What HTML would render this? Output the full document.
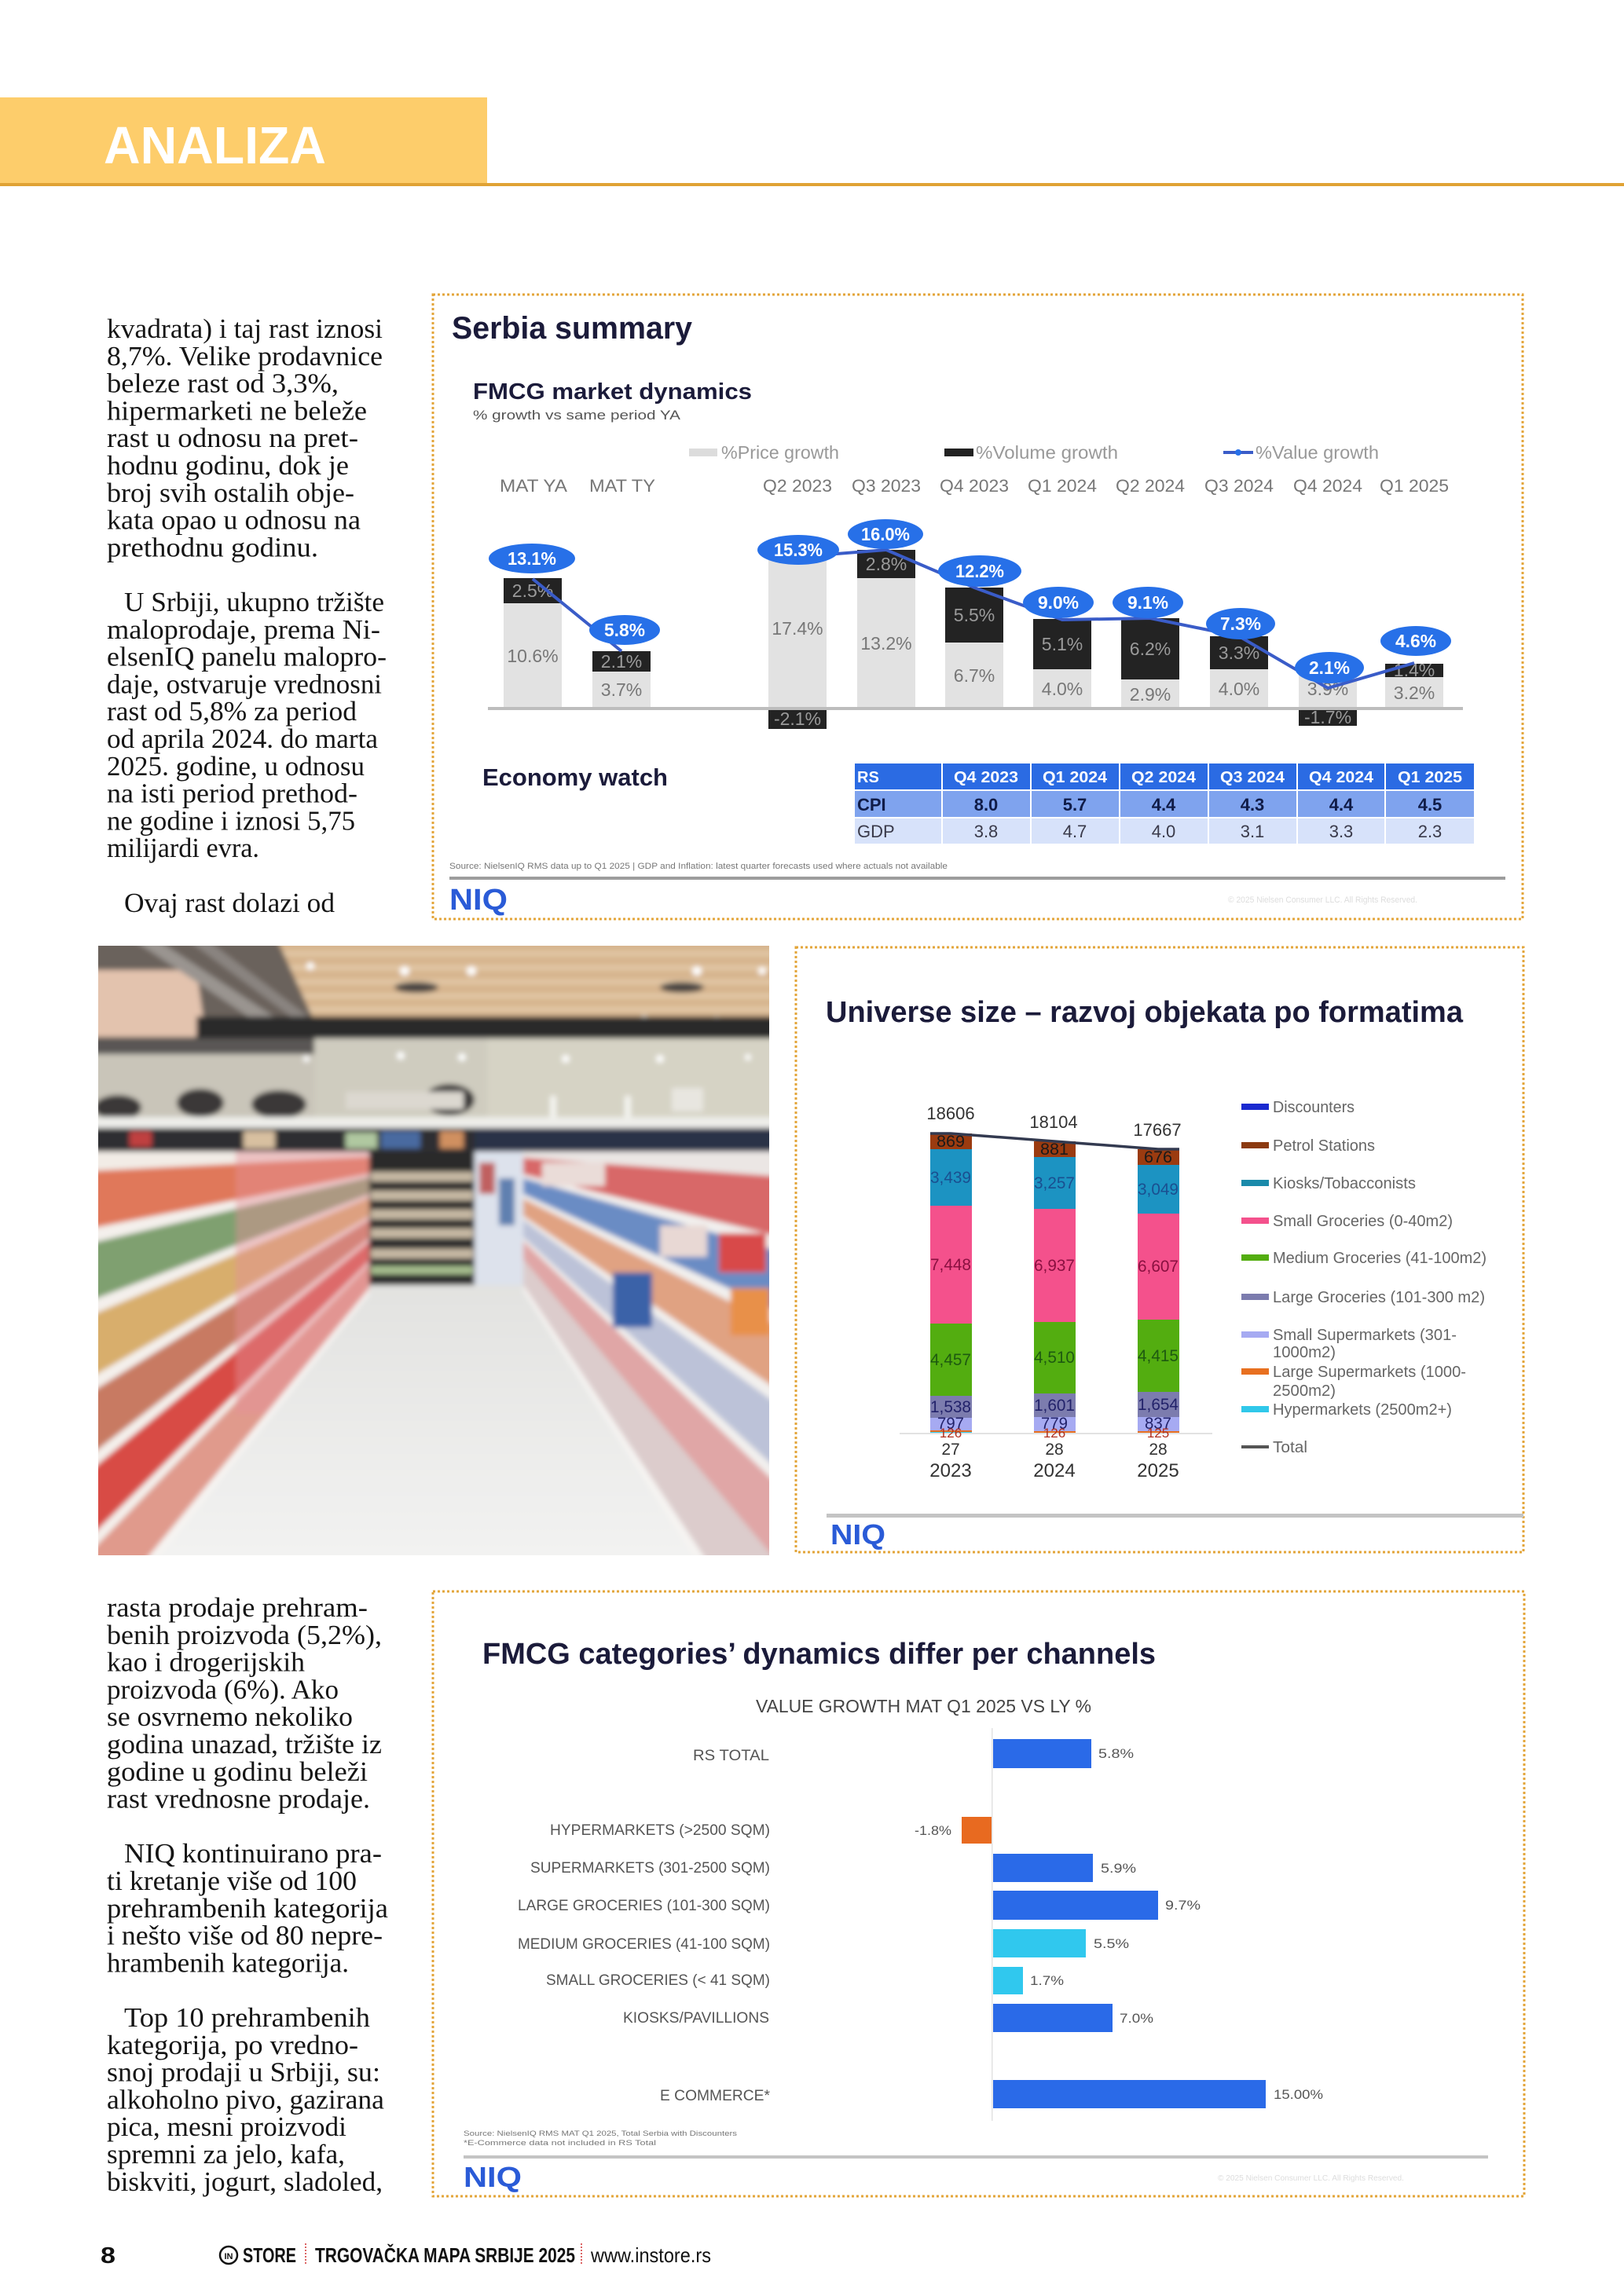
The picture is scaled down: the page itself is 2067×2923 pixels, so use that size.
<!DOCTYPE html>
<html>
<head>
<meta charset="utf-8">
<style>
html,body{margin:0;padding:0;background:#fff;}
svg{display:block;}
.bt{font-family:"Liberation Serif",serif;font-size:35px;fill:#151515;}
.sans{font-family:"Liberation Sans",sans-serif;}
</style>
</head>
<body>
<svg width="2067" height="2923" viewBox="0 0 2067 2923" xmlns="http://www.w3.org/2000/svg">
<defs>
  <clipPath id="photoClip"><rect x="125" y="1204" width="854" height="776"/></clipPath>
  <filter id="blur" x="-5%" y="-5%" width="110%" height="110%"><feGaussianBlur stdDeviation="3.5"/></filter>
  <linearGradient id="floorG" x1="0" y1="0" x2="0" y2="1">
    <stop offset="0" stop-color="#e2e2e0"/><stop offset="1" stop-color="#f3f3f2"/>
  </linearGradient>
</defs>
<rect x="0" y="0" width="2067" height="2923" fill="#fff"/>

<!-- HEADER -->
<rect x="0" y="124" width="620" height="110" fill="#fdcd6b"/>
<rect x="0" y="233" width="2067" height="4" fill="#e0a234"/>
<text x="132" y="208" class="sans" font-weight="bold" font-size="67" fill="#fff" textLength="283" lengthAdjust="spacingAndGlyphs">ANALIZA</text>

<!-- BODY TEXT COLUMN 1 -->
<g class="bt">
<text x="136" y="430" textLength="351" lengthAdjust="spacingAndGlyphs">kvadrata) i taj rast iznosi</text>
<text x="136" y="464.8" textLength="351" lengthAdjust="spacingAndGlyphs">8,7%. Velike prodavnice</text>
<text x="136" y="499.6" textLength="295" lengthAdjust="spacingAndGlyphs">beleze rast od 3,3%,</text>
<text x="136" y="534.4" textLength="331" lengthAdjust="spacingAndGlyphs">hipermarketi ne beleže</text>
<text x="136" y="569.2" textLength="320" lengthAdjust="spacingAndGlyphs">rast u odnosu na pret-</text>
<text x="136" y="604" textLength="308" lengthAdjust="spacingAndGlyphs">hodnu godinu, dok je</text>
<text x="136" y="638.8" textLength="315" lengthAdjust="spacingAndGlyphs">broj svih ostalih obje-</text>
<text x="136" y="673.6" textLength="323" lengthAdjust="spacingAndGlyphs">kata opao u odnosu na</text>
<text x="136" y="708.4" textLength="269" lengthAdjust="spacingAndGlyphs">prethodnu godinu.</text>
<text x="158" y="778" textLength="331" lengthAdjust="spacingAndGlyphs">U Srbiji, ukupno tržište</text>
<text x="136" y="812.8" textLength="348" lengthAdjust="spacingAndGlyphs">maloprodaje, prema Ni-</text>
<text x="136" y="847.6" textLength="356" lengthAdjust="spacingAndGlyphs">elsenIQ panelu malopro-</text>
<text x="136" y="882.4" textLength="350" lengthAdjust="spacingAndGlyphs">daje, ostvaruje vrednosni</text>
<text x="136" y="917.2" textLength="318" lengthAdjust="spacingAndGlyphs">rast od 5,8% za period</text>
<text x="136" y="952" textLength="345" lengthAdjust="spacingAndGlyphs">od aprila 2024. do marta</text>
<text x="136" y="986.8" textLength="328" lengthAdjust="spacingAndGlyphs">2025. godine, u odnosu</text>
<text x="136" y="1021.6" textLength="319" lengthAdjust="spacingAndGlyphs">na isti period prethod-</text>
<text x="136" y="1056.4" textLength="316" lengthAdjust="spacingAndGlyphs">ne godine i iznosi 5,75</text>
<text x="136" y="1091.2" textLength="194" lengthAdjust="spacingAndGlyphs">milijardi evra.</text>
<text x="158" y="1160.8" textLength="268" lengthAdjust="spacingAndGlyphs">Ovaj rast dolazi od</text>
</g>

<!-- BODY TEXT COLUMN 2 -->
<g class="bt">
<text x="136" y="2058" textLength="332" lengthAdjust="spacingAndGlyphs">rasta prodaje prehram-</text>
<text x="136" y="2092.8" textLength="350" lengthAdjust="spacingAndGlyphs">benih proizvoda (5,2%),</text>
<text x="136" y="2127.6" textLength="252" lengthAdjust="spacingAndGlyphs">kao i drogerijskih</text>
<text x="136" y="2162.4" textLength="295" lengthAdjust="spacingAndGlyphs">proizvoda (6%). Ako</text>
<text x="136" y="2197.2" textLength="313" lengthAdjust="spacingAndGlyphs">se osvrnemo nekoliko</text>
<text x="136" y="2232" textLength="350" lengthAdjust="spacingAndGlyphs">godina unazad, tržište iz</text>
<text x="136" y="2266.8" textLength="332" lengthAdjust="spacingAndGlyphs">godine u godinu beleži</text>
<text x="136" y="2301.6" textLength="335" lengthAdjust="spacingAndGlyphs">rast vrednosne prodaje.</text>
<text x="158" y="2371.2" textLength="328" lengthAdjust="spacingAndGlyphs">NIQ kontinuirano pra-</text>
<text x="136" y="2406" textLength="318" lengthAdjust="spacingAndGlyphs">ti kretanje više od 100</text>
<text x="136" y="2440.8" textLength="358" lengthAdjust="spacingAndGlyphs">prehrambenih kategorija</text>
<text x="136" y="2475.6" textLength="351" lengthAdjust="spacingAndGlyphs">i nešto više od 80 nepre-</text>
<text x="136" y="2510.4" textLength="308" lengthAdjust="spacingAndGlyphs">hrambenih kategorija.</text>
<text x="158" y="2580" textLength="313" lengthAdjust="spacingAndGlyphs">Top 10 prehrambenih</text>
<text x="136" y="2614.8" textLength="320" lengthAdjust="spacingAndGlyphs">kategorija, po vredno-</text>
<text x="136" y="2649.6" textLength="348" lengthAdjust="spacingAndGlyphs">snoj prodaji u Srbiji, su:</text>
<text x="136" y="2684.4" textLength="353" lengthAdjust="spacingAndGlyphs">alkoholno pivo, gazirana</text>
<text x="136" y="2719.2" textLength="305" lengthAdjust="spacingAndGlyphs">pica, mesni proizvodi</text>
<text x="136" y="2754" textLength="303" lengthAdjust="spacingAndGlyphs">spremni za jelo, kafa,</text>
<text x="136" y="2788.8" textLength="351" lengthAdjust="spacingAndGlyphs">biskviti, jogurt, sladoled,</text>
</g>

<!-- ================= SERBIA SUMMARY ================= -->
<rect x="551" y="375" width="1387" height="795" fill="none" stroke="#e3a53a" stroke-width="3" stroke-dasharray="3,3"/>
<g class="sans">
<text x="575" y="431" font-weight="bold" font-size="40" fill="#1b1b3a" textLength="306" lengthAdjust="spacingAndGlyphs">Serbia summary</text>
<text x="602" y="508" font-weight="bold" font-size="29" fill="#1b1b3a" textLength="355" lengthAdjust="spacingAndGlyphs">FMCG market dynamics</text>
<text x="602" y="534" font-size="17" fill="#555" textLength="264" lengthAdjust="spacingAndGlyphs">% growth vs same period YA</text>
<!-- legend -->
<rect x="877" y="571" width="36" height="10" fill="#dcdcdc"/>
<text x="918" y="584" font-size="23" fill="#999" textLength="150" lengthAdjust="spacingAndGlyphs">%Price growth</text>
<rect x="1202" y="571" width="37" height="10" fill="#222"/>
<text x="1242" y="584" font-size="23" fill="#999" textLength="181" lengthAdjust="spacingAndGlyphs">%Volume growth</text>
<line x1="1557" y1="576" x2="1595" y2="576" stroke="#3a5cc8" stroke-width="4"/>
<circle cx="1576" cy="576" r="4" fill="#2770e8"/>
<text x="1598" y="584" font-size="23" fill="#999" textLength="157" lengthAdjust="spacingAndGlyphs">%Value growth</text>
<!-- headers -->
<g font-size="22" fill="#777" text-anchor="middle">
<text x="679" y="626" textLength="86" lengthAdjust="spacingAndGlyphs">MAT YA</text>
<text x="792" y="626" textLength="84" lengthAdjust="spacingAndGlyphs">MAT TY</text>
<text x="1015" y="626" textLength="88" lengthAdjust="spacingAndGlyphs">Q2 2023</text>
<text x="1128" y="626" textLength="88" lengthAdjust="spacingAndGlyphs">Q3 2023</text>
<text x="1240" y="626" textLength="88" lengthAdjust="spacingAndGlyphs">Q4 2023</text>
<text x="1352" y="626" textLength="88" lengthAdjust="spacingAndGlyphs">Q1 2024</text>
<text x="1464" y="626" textLength="88" lengthAdjust="spacingAndGlyphs">Q2 2024</text>
<text x="1577" y="626" textLength="88" lengthAdjust="spacingAndGlyphs">Q3 2024</text>
<text x="1690" y="626" textLength="88" lengthAdjust="spacingAndGlyphs">Q4 2024</text>
<text x="1800" y="626" textLength="88" lengthAdjust="spacingAndGlyphs">Q1 2025</text>
</g>
<!-- bars: light (price) -->
<g fill="#e2e2e2">
<rect x="641" y="768" width="74" height="134"/>
<rect x="754" y="855" width="74" height="47"/>
<rect x="978" y="700" width="74" height="202"/>
<rect x="1091" y="736" width="74" height="166"/>
<rect x="1203" y="818" width="74" height="84"/>
<rect x="1315" y="852" width="74" height="50"/>
<rect x="1427" y="865" width="74" height="37"/>
<rect x="1540" y="852" width="74" height="50"/>
<rect x="1653" y="853" width="74" height="49"/>
<rect x="1763" y="862" width="74" height="40"/>
</g>
<!-- bars: dark (volume) -->
<g fill="#232323">
<rect x="641" y="736" width="74" height="32"/>
<rect x="754" y="829" width="74" height="26"/>
<rect x="978" y="902" width="74" height="26"/>
<rect x="1091" y="700" width="74" height="36"/>
<rect x="1203" y="748" width="74" height="70"/>
<rect x="1315" y="788" width="74" height="64"/>
<rect x="1427" y="787" width="74" height="78"/>
<rect x="1540" y="810" width="74" height="42"/>
<rect x="1653" y="902" width="74" height="22"/>
<rect x="1763" y="845" width="74" height="17"/>
</g>
<rect x="621" y="900" width="1241" height="4" fill="#bdbdbd"/>
<!-- light labels -->
<g font-size="23" fill="#777" text-anchor="middle">
<text x="678" y="843">10.6%</text>
<text x="791" y="886">3.7%</text>
<text x="1015" y="808">17.4%</text>
<text x="1128" y="827">13.2%</text>
<text x="1240" y="868">6.7%</text>
<text x="1352" y="885">4.0%</text>
<text x="1464" y="892">2.9%</text>
<text x="1577" y="885">4.0%</text>
<text x="1690" y="885">3.9%</text>
<text x="1800" y="890">3.2%</text>
</g>
<!-- dark labels -->
<g font-size="23" fill="#9a9a9a" text-anchor="middle">
<text x="678" y="760">2.5%</text>
<text x="791" y="850">2.1%</text>
<text x="1015" y="923">-2.1%</text>
<text x="1128" y="726">2.8%</text>
<text x="1240" y="791">5.5%</text>
<text x="1352" y="828">5.1%</text>
<text x="1464" y="834">6.2%</text>
<text x="1577" y="839">3.3%</text>
<text x="1690" y="921">-1.7%</text>
<text x="1800" y="861">1.4%</text>
</g>
<!-- value line -->
<g fill="none" stroke="#3a5cc8" stroke-width="4">
<polyline points="678,737 791,829"/>
<polyline points="1015,709 1128,700 1240,748 1352,789 1464,787 1577,810 1690,876 1800,844"/>
</g>
<!-- bubbles -->
<g fill="#2770e8">
<ellipse cx="677" cy="711" rx="55" ry="19"/>
<ellipse cx="795" cy="802" rx="45" ry="19"/>
<ellipse cx="1016" cy="700" rx="52" ry="19"/>
<ellipse cx="1127" cy="680" rx="48" ry="19"/>
<ellipse cx="1247" cy="727" rx="53" ry="20"/>
<ellipse cx="1347" cy="767" rx="45" ry="20"/>
<ellipse cx="1461" cy="767" rx="45" ry="20"/>
<ellipse cx="1579" cy="794" rx="44" ry="20"/>
<ellipse cx="1692" cy="850" rx="44" ry="20"/>
<ellipse cx="1802" cy="816" rx="45" ry="19"/>
</g>
<g font-size="23" font-weight="bold" fill="#fff" text-anchor="middle">
<text x="677" y="719" textLength="62" lengthAdjust="spacingAndGlyphs">13.1%</text>
<text x="795" y="810" textLength="52" lengthAdjust="spacingAndGlyphs">5.8%</text>
<text x="1016" y="708" textLength="62" lengthAdjust="spacingAndGlyphs">15.3%</text>
<text x="1127" y="688" textLength="62" lengthAdjust="spacingAndGlyphs">16.0%</text>
<text x="1247" y="735" textLength="62" lengthAdjust="spacingAndGlyphs">12.2%</text>
<text x="1347" y="775" textLength="52" lengthAdjust="spacingAndGlyphs">9.0%</text>
<text x="1461" y="775" textLength="52" lengthAdjust="spacingAndGlyphs">9.1%</text>
<text x="1579" y="802" textLength="52" lengthAdjust="spacingAndGlyphs">7.3%</text>
<text x="1692" y="858" textLength="52" lengthAdjust="spacingAndGlyphs">2.1%</text>
<text x="1802" y="824" textLength="52" lengthAdjust="spacingAndGlyphs">4.6%</text>
</g>
<!-- economy watch -->
<text x="614" y="1000" font-weight="bold" font-size="31" fill="#1b1b3a" textLength="236" lengthAdjust="spacingAndGlyphs">Economy watch</text>
<g fill="#2b6be3">
<rect x="1088" y="972" width="110" height="33"/>
<rect x="1200" y="972" width="111" height="33"/>
<rect x="1313" y="972" width="111" height="33"/>
<rect x="1426" y="972" width="111" height="33"/>
<rect x="1539" y="972" width="111" height="33"/>
<rect x="1652" y="972" width="110" height="33"/>
<rect x="1764" y="972" width="112" height="33"/>
</g>
<g fill="#7fa3ee">
<rect x="1088" y="1007" width="110" height="33"/>
<rect x="1200" y="1007" width="111" height="33"/>
<rect x="1313" y="1007" width="111" height="33"/>
<rect x="1426" y="1007" width="111" height="33"/>
<rect x="1539" y="1007" width="111" height="33"/>
<rect x="1652" y="1007" width="110" height="33"/>
<rect x="1764" y="1007" width="112" height="33"/>
</g>
<g fill="#d7e2fa">
<rect x="1088" y="1042" width="110" height="32"/>
<rect x="1200" y="1042" width="111" height="32"/>
<rect x="1313" y="1042" width="111" height="32"/>
<rect x="1426" y="1042" width="111" height="32"/>
<rect x="1539" y="1042" width="111" height="32"/>
<rect x="1652" y="1042" width="110" height="32"/>
<rect x="1764" y="1042" width="112" height="32"/>
</g>
<g font-size="20" font-weight="bold" fill="#fff">
<text x="1091" y="996">RS</text>
<g text-anchor="middle">
<text x="1255" y="996" textLength="82" lengthAdjust="spacingAndGlyphs">Q4 2023</text>
<text x="1368" y="996" textLength="82" lengthAdjust="spacingAndGlyphs">Q1 2024</text>
<text x="1481" y="996" textLength="82" lengthAdjust="spacingAndGlyphs">Q2 2024</text>
<text x="1594" y="996" textLength="82" lengthAdjust="spacingAndGlyphs">Q3 2024</text>
<text x="1707" y="996" textLength="82" lengthAdjust="spacingAndGlyphs">Q4 2024</text>
<text x="1820" y="996" textLength="82" lengthAdjust="spacingAndGlyphs">Q1 2025</text>
</g>
</g>
<g font-size="22" font-weight="bold" fill="#101c48">
<text x="1091" y="1032">CPI</text>
<g text-anchor="middle">
<text x="1255" y="1032">8.0</text><text x="1368" y="1032">5.7</text><text x="1481" y="1032">4.4</text>
<text x="1594" y="1032">4.3</text><text x="1707" y="1032">4.4</text><text x="1820" y="1032">4.5</text>
</g>
</g>
<g font-size="22" fill="#3a3a4a">
<text x="1091" y="1066">GDP</text>
<g text-anchor="middle">
<text x="1255" y="1066">3.8</text><text x="1368" y="1066">4.7</text><text x="1481" y="1066">4.0</text>
<text x="1594" y="1066">3.1</text><text x="1707" y="1066">3.3</text><text x="1820" y="1066">2.3</text>
</g>
</g>
<text x="572" y="1106" font-size="11" fill="#777" textLength="634" lengthAdjust="spacingAndGlyphs">Source: NielsenIQ RMS data up to Q1 2025 | GDP and Inflation: latest quarter forecasts used where actuals not available</text>
<rect x="572" y="1116" width="1344" height="4" fill="#9d9d9d"/>
<text x="572" y="1158" font-size="38" font-weight="bold" fill="#2a5bd7" textLength="74" lengthAdjust="spacingAndGlyphs">NIQ</text>
<text x="1563" y="1149" font-size="11" fill="#ddd" textLength="241" lengthAdjust="spacingAndGlyphs">© 2025 Nielsen Consumer LLC. All Rights Reserved.</text>
</g>

<!-- ================= PHOTO ================= -->
<g clip-path="url(#photoClip)">
<g filter="url(#blur)">
  <rect x="110" y="1190" width="885" height="805" fill="#c9c5b9"/>
  <!-- ceiling -->
  <rect x="110" y="1190" width="885" height="106" fill="#d7b58f"/>
  <g fill="#e8d0b0">
    <rect x="350" y="1212" width="645" height="4"/>
    <rect x="360" y="1230" width="635" height="4"/>
    <rect x="370" y="1248" width="625" height="4"/>
    <rect x="380" y="1266" width="615" height="4"/>
    <rect x="390" y="1283" width="605" height="4"/>
  </g>
  <polygon points="110,1190 350,1190 400,1300 400,1322 110,1322" fill="#6a625c"/>
  <polygon points="110,1235 250,1235 262,1320 110,1320" fill="#e3c3ae"/>
  <polygon points="160,1190 190,1190 380,1315 355,1320" fill="#9a9490"/>
  <polygon points="230,1190 255,1190 400,1300 385,1305" fill="#8a8480"/>
  <g fill="#ffffff">
    <circle cx="395" cy="1230" r="5"/><circle cx="515" cy="1236" r="6"/><circle cx="600" cy="1236" r="6"/>
    <circle cx="887" cy="1236" r="6"/><circle cx="970" cy="1236" r="5"/><circle cx="530" cy="1300" r="5"/>
    <circle cx="820" cy="1297" r="5"/><circle cx="912" cy="1298" r="5"/>
  </g>
  <ellipse cx="530" cy="1257" rx="28" ry="7" fill="#4a4442"/>
  <ellipse cx="868" cy="1257" rx="28" ry="7" fill="#4a4442"/>
  <!-- dark band -->
  <rect x="250" y="1294" width="745" height="28" fill="#2c2c2c"/>
  <!-- wall -->
  <rect x="400" y="1322" width="595" height="102" fill="#cfccbf"/>
  <rect x="620" y="1322" width="375" height="102" fill="#d6d3c5"/>
  <g fill="#fff"><circle cx="510" cy="1344" r="5"/><circle cx="588" cy="1346" r="5"/><circle cx="720" cy="1348" r="5"/><circle cx="840" cy="1348" r="5"/><circle cx="952" cy="1346" r="4"/><circle cx="390" cy="1348" r="4"/></g>
  <g fill="#3a3838">
    <ellipse cx="150" cy="1410" rx="30" ry="16"/><ellipse cx="255" cy="1404" rx="30" ry="18"/>
    <ellipse cx="355" cy="1406" rx="35" ry="18"/><ellipse cx="572" cy="1400" rx="32" ry="20"/>
    <rect x="110" y="1322" width="290" height="20" fill="#5a5654"/>
  </g>
  <rect x="440" y="1390" width="150" height="22" fill="#dcd8d0"/>
  <rect x="700" y="1395" width="8" height="30" fill="#f4f4f0"/>
  <rect x="795" y="1395" width="8" height="30" fill="#f4f4f0"/>
  <rect x="855" y="1385" width="40" height="30" fill="#e8e6e0"/>
  <!-- ledge -->
  <rect x="110" y="1422" width="885" height="14" fill="#eeeeea"/>
  <!-- dark products band -->
  <rect x="110" y="1436" width="885" height="32" fill="#2e2e30"/>
  <rect x="604" y="1436" width="391" height="32" fill="#2a3346"/>
  <g>
    <rect x="165" y="1440" width="28" height="20" fill="#c04040"/>
    <rect x="310" y="1440" width="40" height="22" fill="#d8c0a0"/>
    <rect x="440" y="1442" width="40" height="20" fill="#b0c8a0"/>
    <rect x="485" y="1440" width="50" height="22" fill="#4a6aa0"/>
    <rect x="560" y="1440" width="30" height="22" fill="#d09060"/>
  </g>
  <!-- back center shelving -->
  <rect x="468" y="1466" width="138" height="172" fill="#2a2a2a"/>
  <g fill="#c8baa4">
    <rect x="472" y="1492" width="130" height="12"/><rect x="472" y="1516" width="130" height="12"/>
    <rect x="472" y="1540" width="130" height="12"/><rect x="472" y="1564" width="130" height="12"/>
    <rect x="472" y="1590" width="130" height="12"/><rect x="472" y="1612" width="130" height="10" fill="#a8c090"/>
  </g>
  <rect x="604" y="1466" width="62" height="172" fill="#dde2ec"/>
  <rect x="610" y="1480" width="20" height="40" fill="#c06060"/>
  <rect x="635" y="1500" width="20" height="60" fill="#6080b0"/>
  <!-- floor -->
  <polygon points="468,1636 666,1636 905,1995 170,1995" fill="url(#floorG)"/>
  <!-- left shelves -->
  <polygon points="110,1466 470,1466 470,1640 178,1995 110,1995" fill="#e6ccbc"/>
  <polygon points="110,1466 470,1466 470,1473 110,1491" fill="#f2ece6"/>
  <polygon points="110,1491 470,1473 470,1494 110,1565" fill="#e0785a"/>
  <polygon points="110,1565 470,1494 470,1499 110,1584" fill="#f4f0ec"/>
  <polygon points="110,1584 470,1499 470,1520 110,1658" fill="#7fa070"/>
  <polygon points="110,1658 470,1520 470,1525 110,1677" fill="#f4f0ec"/>
  <polygon points="110,1677 470,1525 470,1548 110,1757" fill="#d8ae6c"/>
  <polygon points="110,1757 470,1548 470,1553 110,1776" fill="#f4f0ec"/>
  <polygon points="110,1776 470,1553 470,1576 110,1857" fill="#c87a62"/>
  <polygon points="110,1857 470,1576 470,1581 110,1876" fill="#f4f0ec"/>
  <polygon points="110,1876 470,1581 470,1605 110,1962" fill="#d84c44"/>
  <polygon points="110,1962 470,1605 470,1610 110,1981" fill="#f4f0ec"/>
  <polygon points="110,1981 470,1610 470,1640 178,1995 110,1995" fill="#e09a8c"/>
  <polygon points="300,1466 470,1466 470,1640 340,1800 300,1800" fill="#e4909a" opacity="0.45"/>
  <!-- left shelf front edge white lines -->
  <polygon points="178,1995 470,1640 470,1648 192,1995" fill="#f6f4f2"/>
  <!-- right shelves -->
  <polygon points="666,1466 995,1466 995,1995 905,1995 666,1636" fill="#e2cccc"/>
  <polygon points="666,1466 995,1466 995,1498 666,1474" fill="#ebe6e4"/>
  <polygon points="666,1474 995,1498 995,1575 666,1495" fill="#d86868"/>
  <polygon points="666,1495 995,1575 995,1594 666,1500" fill="#f2f0ee"/>
  <polygon points="666,1500 995,1594 995,1671 666,1520" fill="#6a8cc4"/>
  <polygon points="666,1520 995,1671 995,1690 666,1526" fill="#f2f0ee"/>
  <polygon points="666,1526 995,1690 995,1773 666,1548" fill="#e0a282"/>
  <polygon points="666,1548 995,1773 995,1792 666,1553" fill="#f2f0ee"/>
  <polygon points="666,1553 995,1792 995,1876 666,1575" fill="#bcc2d8"/>
  <polygon points="666,1575 995,1876 995,1895 666,1580" fill="#f2f0ee"/>
  <polygon points="666,1580 995,1895 995,1995 666,1603" fill="#e0a6a6"/>
  <polygon points="666,1603 995,1995 905,1995 666,1636" fill="#dccccc"/>
  <polygon points="905,1995 666,1636 666,1644 892,1995" fill="#f6f4f2"/>
  <rect x="780" y="1620" width="50" height="70" fill="#3a62a8"/>
  <rect x="840" y="1560" width="60" height="40" fill="#e8d8d4"/>
  <rect x="915" y="1570" width="60" height="50" fill="#d84848"/>
  <rect x="930" y="1640" width="50" height="60" fill="#e89048"/>
  <rect x="690" y="1480" width="80" height="30" fill="#eadcd8"/>
</g>
</g>

<!-- ================= UNIVERSE SIZE ================= -->
<rect x="1013" y="1206" width="926" height="770" fill="none" stroke="#e3a53a" stroke-width="3" stroke-dasharray="3,3"/>
<g class="sans">
<text x="1051" y="1301" font-weight="bold" font-size="38" fill="#1b1b3a" textLength="811" lengthAdjust="spacingAndGlyphs">Universe size – razvoj objekata po formatima</text>
<!-- bar 2023 -->
<rect x="1184" y="1443" width="53" height="20" fill="#9b3b10"/>
<rect x="1184" y="1463" width="53" height="72" fill="#1c93c2"/>
<rect x="1184" y="1535" width="53" height="150" fill="#f4518c"/>
<rect x="1184" y="1685" width="53" height="92" fill="#53ad10"/>
<rect x="1184" y="1777" width="53" height="28" fill="#7c7cae"/>
<rect x="1184" y="1805" width="53" height="16" fill="#a6aaf2"/>
<rect x="1184" y="1821" width="53" height="2" fill="#e87020"/>
<rect x="1184" y="1823" width="53" height="2" fill="#30c8ea"/>
<!-- bar 2024 -->
<rect x="1316" y="1453" width="53" height="20" fill="#9b3b10"/>
<rect x="1316" y="1473" width="53" height="66" fill="#1c93c2"/>
<rect x="1316" y="1539" width="53" height="144" fill="#f4518c"/>
<rect x="1316" y="1683" width="53" height="91" fill="#53ad10"/>
<rect x="1316" y="1774" width="53" height="30" fill="#7c7cae"/>
<rect x="1316" y="1804" width="53" height="18" fill="#a6aaf2"/>
<rect x="1316" y="1822" width="53" height="2" fill="#e87020"/>
<rect x="1316" y="1824" width="53" height="1" fill="#30c8ea"/>
<!-- bar 2025 -->
<rect x="1448" y="1463" width="53" height="20" fill="#9b3b10"/>
<rect x="1448" y="1483" width="53" height="62" fill="#1c93c2"/>
<rect x="1448" y="1545" width="53" height="135" fill="#f4518c"/>
<rect x="1448" y="1680" width="53" height="92" fill="#53ad10"/>
<rect x="1448" y="1772" width="53" height="32" fill="#7c7cae"/>
<rect x="1448" y="1804" width="53" height="18" fill="#a6aaf2"/>
<rect x="1448" y="1822" width="53" height="2" fill="#e87020"/>
<rect x="1448" y="1824" width="53" height="1" fill="#30c8ea"/>
<rect x="1145" y="1824" width="398" height="2" fill="#e2e2e2"/>
<!-- segment labels -->
<g font-size="21" text-anchor="middle">
<g fill="#1a1a1a"><text x="1210" y="1460" textLength="36" lengthAdjust="spacingAndGlyphs">869</text><text x="1342" y="1470" textLength="36" lengthAdjust="spacingAndGlyphs">881</text><text x="1474" y="1480" textLength="36" lengthAdjust="spacingAndGlyphs">676</text></g>
<g fill="#1a4f90"><text x="1210" y="1506" textLength="52" lengthAdjust="spacingAndGlyphs">3,439</text><text x="1342" y="1513" textLength="52" lengthAdjust="spacingAndGlyphs">3,257</text><text x="1474" y="1521" textLength="52" lengthAdjust="spacingAndGlyphs">3,049</text></g>
<g fill="#8a1040"><text x="1210" y="1617" textLength="52" lengthAdjust="spacingAndGlyphs">7,448</text><text x="1342" y="1618" textLength="52" lengthAdjust="spacingAndGlyphs">6,937</text><text x="1474" y="1619" textLength="52" lengthAdjust="spacingAndGlyphs">6,607</text></g>
<g fill="#1e5a10"><text x="1210" y="1738" textLength="52" lengthAdjust="spacingAndGlyphs">4,457</text><text x="1342" y="1735" textLength="52" lengthAdjust="spacingAndGlyphs">4,510</text><text x="1474" y="1733" textLength="52" lengthAdjust="spacingAndGlyphs">4,415</text></g>
<g fill="#22226a"><text x="1210" y="1798" textLength="52" lengthAdjust="spacingAndGlyphs">1,538</text><text x="1342" y="1796" textLength="52" lengthAdjust="spacingAndGlyphs">1,601</text><text x="1474" y="1795" textLength="52" lengthAdjust="spacingAndGlyphs">1,654</text></g>
<g fill="#22226a"><text x="1210" y="1819" textLength="34" lengthAdjust="spacingAndGlyphs">797</text><text x="1342" y="1819" textLength="34" lengthAdjust="spacingAndGlyphs">779</text><text x="1474" y="1819" textLength="34" lengthAdjust="spacingAndGlyphs">837</text></g>
<g fill="#b03020" font-size="17"><text x="1210" y="1830">126</text><text x="1342" y="1830">126</text><text x="1474" y="1830">125</text></g>
</g>
<!-- total line + labels -->
<polyline points="1184,1443 1210,1443 1342,1453 1474,1463 1501,1463" fill="none" stroke="#333a50" stroke-width="3.5"/>
<g font-size="22" fill="#333" text-anchor="middle">
<text x="1210" y="1425">18606</text>
<text x="1341" y="1436">18104</text>
<text x="1473" y="1446">17667</text>
<text x="1210" y="1852" font-size="21">27</text>
<text x="1342" y="1852" font-size="21">28</text>
<text x="1474" y="1852" font-size="21">28</text>
<text x="1210" y="1880" font-size="24">2023</text>
<text x="1342" y="1880" font-size="24">2024</text>
<text x="1474" y="1880" font-size="24">2025</text>
</g>
<!-- legend -->
<g>
<rect x="1580" y="1405" width="35" height="8" fill="#1a2ad0"/>
<rect x="1580" y="1454" width="35" height="8" fill="#8b3a10"/>
<rect x="1580" y="1502" width="35" height="8" fill="#1a8aaa"/>
<rect x="1580" y="1550" width="35" height="8" fill="#f4518c"/>
<rect x="1580" y="1597" width="35" height="8" fill="#53ad10"/>
<rect x="1580" y="1647" width="35" height="8" fill="#7c7cae"/>
<rect x="1580" y="1695" width="35" height="8" fill="#a6aaf2"/>
<rect x="1580" y="1742" width="35" height="8" fill="#e87020"/>
<rect x="1580" y="1790" width="35" height="8" fill="#30c8ea"/>
<rect x="1580" y="1840" width="35" height="4" fill="#555"/>
</g>
<g font-size="20" fill="#666">
<text x="1620" y="1416" textLength="104" lengthAdjust="spacingAndGlyphs">Discounters</text>
<text x="1620" y="1465" textLength="130" lengthAdjust="spacingAndGlyphs">Petrol Stations</text>
<text x="1620" y="1513" textLength="182" lengthAdjust="spacingAndGlyphs">Kiosks/Tobacconists</text>
<text x="1620" y="1561" textLength="229" lengthAdjust="spacingAndGlyphs">Small Groceries (0-40m2)</text>
<text x="1620" y="1608" textLength="272" lengthAdjust="spacingAndGlyphs">Medium Groceries (41-100m2)</text>
<text x="1620" y="1658" textLength="270" lengthAdjust="spacingAndGlyphs">Large Groceries (101-300 m2)</text>
<text x="1620" y="1706" textLength="234" lengthAdjust="spacingAndGlyphs">Small Supermarkets (301-</text>
<text x="1620" y="1728" textLength="80" lengthAdjust="spacingAndGlyphs">1000m2)</text>
<text x="1620" y="1753" textLength="246" lengthAdjust="spacingAndGlyphs">Large Supermarkets (1000-</text>
<text x="1620" y="1777" textLength="80" lengthAdjust="spacingAndGlyphs">2500m2)</text>
<text x="1620" y="1801" textLength="228" lengthAdjust="spacingAndGlyphs">Hypermarkets (2500m2+)</text>
<text x="1620" y="1849" textLength="44" lengthAdjust="spacingAndGlyphs">Total</text>
</g>
<rect x="1052" y="1927" width="887" height="5" fill="#c4c4c4"/>
<text x="1057" y="1966" font-size="36" font-weight="bold" fill="#2a5bd7" textLength="70" lengthAdjust="spacingAndGlyphs">NIQ</text>
</g>

<!-- ================= FMCG CATEGORIES ================= -->
<rect x="551" y="2026" width="1389" height="770" fill="none" stroke="#e3a53a" stroke-width="3" stroke-dasharray="3,3"/>
<g class="sans">
<text x="614" y="2118" font-weight="bold" font-size="38" fill="#1b1b3a" textLength="857" lengthAdjust="spacingAndGlyphs">FMCG categories’ dynamics differ per channels</text>
<text x="962" y="2180" font-size="23" fill="#444" textLength="427" lengthAdjust="spacingAndGlyphs">VALUE GROWTH MAT Q1 2025 VS LY %</text>
<rect x="1262" y="2200" width="1.5" height="500" fill="#e2e2e2"/>
<rect x="1264" y="2214" width="125" height="37" fill="#2a6ae8"/>
<rect x="1224" y="2313" width="38" height="34" fill="#e86a20"/>
<rect x="1264" y="2360" width="127" height="36" fill="#2a6ae8"/>
<rect x="1264" y="2407" width="210" height="37" fill="#2a6ae8"/>
<rect x="1264" y="2456" width="118" height="36" fill="#30c8ee"/>
<rect x="1264" y="2504" width="38" height="35" fill="#30c8ee"/>
<rect x="1264" y="2551" width="152" height="36" fill="#2a6ae8"/>
<rect x="1264" y="2648" width="347" height="36" fill="#2a6ae8"/>
<g font-size="19" fill="#555" text-anchor="end">
<text x="979" y="2241" textLength="97" lengthAdjust="spacingAndGlyphs">RS TOTAL</text>
<text x="980" y="2336" textLength="280" lengthAdjust="spacingAndGlyphs">HYPERMARKETS (&gt;2500 SQM)</text>
<text x="980" y="2384" textLength="305" lengthAdjust="spacingAndGlyphs">SUPERMARKETS (301-2500 SQM)</text>
<text x="980" y="2432" textLength="321" lengthAdjust="spacingAndGlyphs">LARGE GROCERIES (101-300 SQM)</text>
<text x="980" y="2481" textLength="321" lengthAdjust="spacingAndGlyphs">MEDIUM GROCERIES (41-100 SQM)</text>
<text x="980" y="2527" textLength="285" lengthAdjust="spacingAndGlyphs">SMALL GROCERIES (&lt; 41 SQM)</text>
<text x="979" y="2575" textLength="186" lengthAdjust="spacingAndGlyphs">KIOSKS/PAVILLIONS</text>
<text x="980" y="2674" textLength="140" lengthAdjust="spacingAndGlyphs">E COMMERCE*</text>
</g>
<g font-size="17" fill="#555">
<text x="1398" y="2238" textLength="45" lengthAdjust="spacingAndGlyphs">5.8%</text>
<text x="1164" y="2336" textLength="47" lengthAdjust="spacingAndGlyphs">-1.8%</text>
<text x="1401" y="2384" textLength="45" lengthAdjust="spacingAndGlyphs">5.9%</text>
<text x="1483" y="2431" textLength="45" lengthAdjust="spacingAndGlyphs">9.7%</text>
<text x="1392" y="2480" textLength="45" lengthAdjust="spacingAndGlyphs">5.5%</text>
<text x="1311" y="2527" textLength="43" lengthAdjust="spacingAndGlyphs">1.7%</text>
<text x="1425" y="2575" textLength="43" lengthAdjust="spacingAndGlyphs">7.0%</text>
<text x="1621" y="2672" textLength="63" lengthAdjust="spacingAndGlyphs">15.00%</text>
</g>
<text x="590" y="2719" font-size="9" fill="#777" textLength="348" lengthAdjust="spacingAndGlyphs">Source: NielsenIQ RMS MAT Q1 2025, Total Serbia with Discounters</text>
<text x="590" y="2731" font-size="9" fill="#777" textLength="245" lengthAdjust="spacingAndGlyphs">*E-Commerce data not included in RS Total</text>
<rect x="590" y="2744" width="1304" height="4" fill="#c4c4c4"/>
<text x="590" y="2784" font-size="36" font-weight="bold" fill="#2a5bd7" textLength="74" lengthAdjust="spacingAndGlyphs">NIQ</text>
<text x="1550" y="2776" font-size="10" fill="#ddd" textLength="237" lengthAdjust="spacingAndGlyphs">© 2025 Nielsen Consumer LLC. All Rights Reserved.</text>
</g>

<!-- ================= FOOTER ================= -->
<g class="sans">
<text x="128" y="2881" font-size="29" font-weight="bold" fill="#111" textLength="19" lengthAdjust="spacingAndGlyphs">8</text>
<circle cx="291" cy="2871" r="11" fill="none" stroke="#111" stroke-width="2.5"/>
<text x="291" y="2876" font-size="11" font-weight="bold" fill="#111" text-anchor="middle">IN</text>
<text x="309" y="2880" font-size="26" font-weight="bold" fill="#111" textLength="68" lengthAdjust="spacingAndGlyphs">STORE</text>
<line x1="389" y1="2856" x2="389" y2="2884" stroke="#d03030" stroke-width="1.5" stroke-dasharray="2,2"/>
<text x="401" y="2880" font-size="26" font-weight="bold" fill="#111" textLength="331" lengthAdjust="spacingAndGlyphs">TRGOVAČKA MAPA SRBIJE 2025</text>
<line x1="740" y1="2856" x2="740" y2="2884" stroke="#d03030" stroke-width="1.5" stroke-dasharray="2,2"/>
<text x="752" y="2880" font-size="26" fill="#111" textLength="153" lengthAdjust="spacingAndGlyphs">www.instore.rs</text>
</g>
</svg>
</body>
</html>
